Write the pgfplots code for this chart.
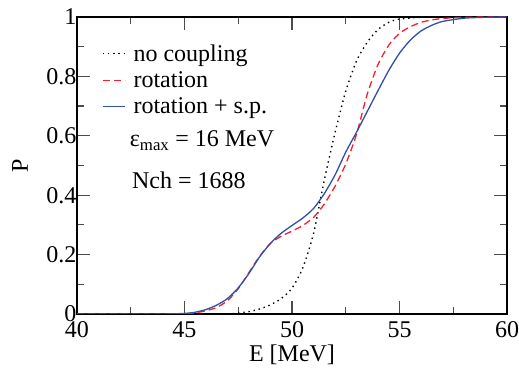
\documentclass[border=0pt]{standalone}
\usepackage{fontspec}
\setmainfont{Liberation Serif}
\usepackage{pgfplots}
\pgfplotsset{compat=1.18}
\definecolor{myblue}{RGB}{48,80,168}
\definecolor{myred}{RGB}{250,30,40}
\newcommand{\bigf}{\fontsize{24}{26}\selectfont}
\begin{document}
\begin{tikzpicture}
\path[use as bounding box] (-77pt,-57pt) rectangle (442pt,314pt);
\begin{axis}[
  at={(0pt,0pt)}, anchor=south west,
  scale only axis, width=430pt, height=297pt,
  xmin=40, xmax=60, ymin=0, ymax=1,
  xtick={40,45,50,55,60}, ytick={0,0.2,0.4,0.6,0.8,1},
  xticklabel={\pgfmathprintnumber[assume math mode=true]{\tick}},
  yticklabel={\pgfmathprintnumber[assume math mode=true]{\tick}},
  minor x tick num=1, minor y tick num=1,
  tick align=inside,
  major tick length=13pt, minor tick length=7pt,
  every tick/.style={line width=1.2pt, color=black!70},
  axis line style={line width=1.6pt, black},
  /pgf/number format/assume math mode=true,
  tick label style={font=\bigf},
  xticklabel style={yshift=-4pt},
  yticklabel style={xshift=3pt},
  xlabel={E [MeV]}, ylabel={P},
  every axis x label/.style={at={(axis description cs:0.5,-0.138)}, anchor=center, font=\bigf},
  every axis y label/.style={at={(axis description cs:-0.1326,0.5)}, anchor=center, rotate=90, font=\bigf},
  legend cell align=left,
  legend style={at={(axis description cs:0.058,0.915)}, anchor=north west, draw=none, fill=none,
    font=\bigf, row sep=5pt, column sep=6pt, inner sep=0pt},
  legend image code/.code={\draw[#1] (0pt,0pt) -- (22pt,0pt);},
]
\addplot[black, line width=1.4pt, dash pattern=on 1.4pt off 3.8pt, smooth, tension=0.4] coordinates {
(40,0) (46,0) (47,0.0) (47.5,0.003) (48,0.008) (48.5,0.017) (49,0.031) (49.5,0.052) (50,0.087)
(50.5,0.155) (51,0.27) (51.5,0.45) (52,0.61) (52.5,0.75) (53,0.852) (53.5,0.915) (54,0.958)
(54.5,0.982) (55,0.993) (56,0.999) (57,1) (60,1)};
\addlegendentry{no coupling}
\addplot[myred, line width=1.3pt, dash pattern=on 7pt off 4pt, smooth, tension=0.4] coordinates {
(40,0) (44,0) (45,0.001) (45.5,0.004) (46,0.011) (46.5,0.022) (47,0.045) (47.5,0.085) (48,0.14)
(48.5,0.195) (49,0.238) (49.5,0.262) (50,0.279) (50.5,0.298) (51,0.325) (51.5,0.37) (52,0.43)
(52.5,0.505) (53,0.605) (53.5,0.74) (54,0.84) (54.5,0.905) (55,0.945) (55.5,0.967) (56,0.982)
(56.5,0.99) (57,0.995) (58,0.999) (60,1)};
\addlegendentry{rotation}
\addplot[myblue, line width=1.3pt, smooth, tension=0.4] coordinates {
(40,0) (44,0) (45,0.002) (45.5,0.006) (46,0.015) (46.5,0.03) (47,0.052) (47.5,0.088) (48,0.137)
(48.5,0.193) (49,0.238) (49.5,0.272) (50,0.298) (50.5,0.323) (51,0.355) (51.5,0.405) (52,0.468)
(52.5,0.545) (53,0.612) (53.5,0.682) (54,0.752) (54.5,0.82) (55,0.878) (55.5,0.922) (56,0.953)
(56.5,0.972) (57,0.985) (58,0.996) (59,0.999) (60,1)};
\addlegendentry{rotation + s.p.}
\node[anchor=west, font=\bigf, inner sep=0pt] at (axis cs:42.45,0.583) {ε\textsubscript{max} = 16 MeV};
\node[anchor=west, font=\bigf, inner sep=0pt] at (axis cs:42.55,0.451) {Nch = 1688};
\end{axis}
\end{tikzpicture}
\end{document}
